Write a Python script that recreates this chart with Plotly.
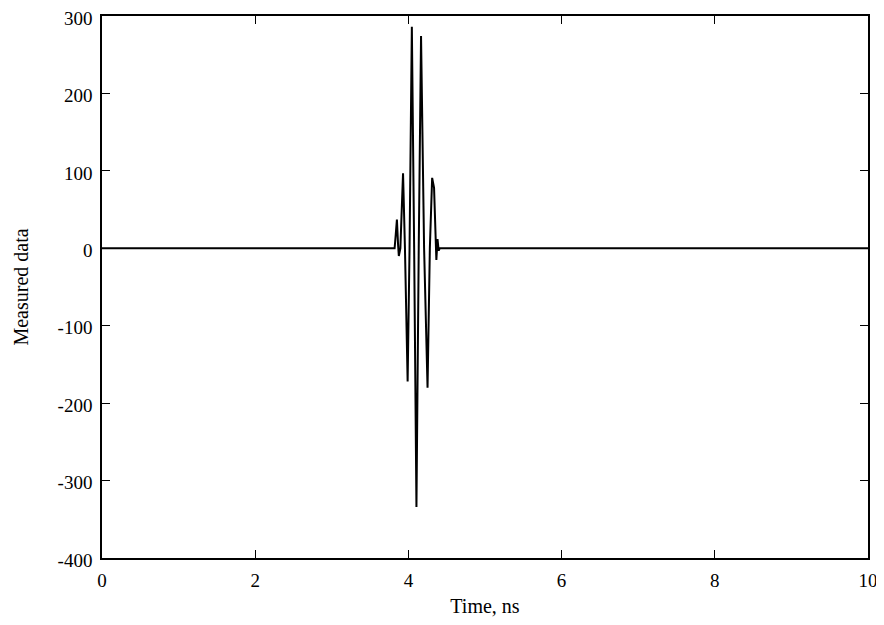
import plotly.graph_objects as go

time_ns = [0.0, 3.82, 3.835, 3.85, 3.865, 3.875, 3.895, 3.93, 3.955, 3.99, 4.015,
           4.045, 4.075, 4.105, 4.135, 4.165, 4.205, 4.25, 4.28, 4.31, 4.335,
           4.352, 4.365, 4.38, 4.395, 4.41, 10.0]
measured = [0, 0, 18, 37, 5, -10, 0, 97, 0, -172, 0,
            286, 0, -334, 0, 274, 0, -180, 0, 91, 78,
            10, -15, 12, -3, 0, 0]

x_ticks = [0, 2, 4, 6, 8, 10]
x_labels = ["0", "2", "4", "6", "8", "10"]
y_ticks = [-400, -300, -200, -100, 0, 100, 200, 300]
y_labels = ["-400", "-300", "-200", "-100", "0", "100", "200", "300"]

tick_font = dict(family="Liberation Serif", size=19, color="black")
title_font = dict(family="Liberation Serif", size=20, color="black")

fig = go.Figure()
fig.add_trace(go.Scatter(x=time_ns, y=measured, mode="lines",
                         line=dict(color="black", width=2), showlegend=False))

axis_common = dict(showline=True, linecolor="black", linewidth=1.5, mirror="ticks",
                   ticks="inside", ticklen=8, tickcolor="black", tickwidth=1,
                   showgrid=False, zeroline=False, automargin=False,
                   ticklabeloverflow="allow", tickfont=tick_font)

# page body has an 8px default margin; margins compensate for that offset
fig.update_layout(
    width=884, height=609,
    margin=dict(l=94, r=24, t=8, b=59),
    paper_bgcolor="white", plot_bgcolor="white",
    xaxis=dict(range=[0, 10], tickvals=x_ticks, ticktext=x_labels, ticklabelstandoff=4,
               title=dict(text="Time, ns", standoff=10, font=title_font),
               **axis_common),
    yaxis=dict(range=[-400, 300], tickvals=y_ticks, ticktext=y_labels, ticklabelstandoff=4,
               ticklabelshift=2,
               title=dict(text="Measured data", standoff=24, font=title_font),
               **axis_common),
)

fig.write_html("out.html")
